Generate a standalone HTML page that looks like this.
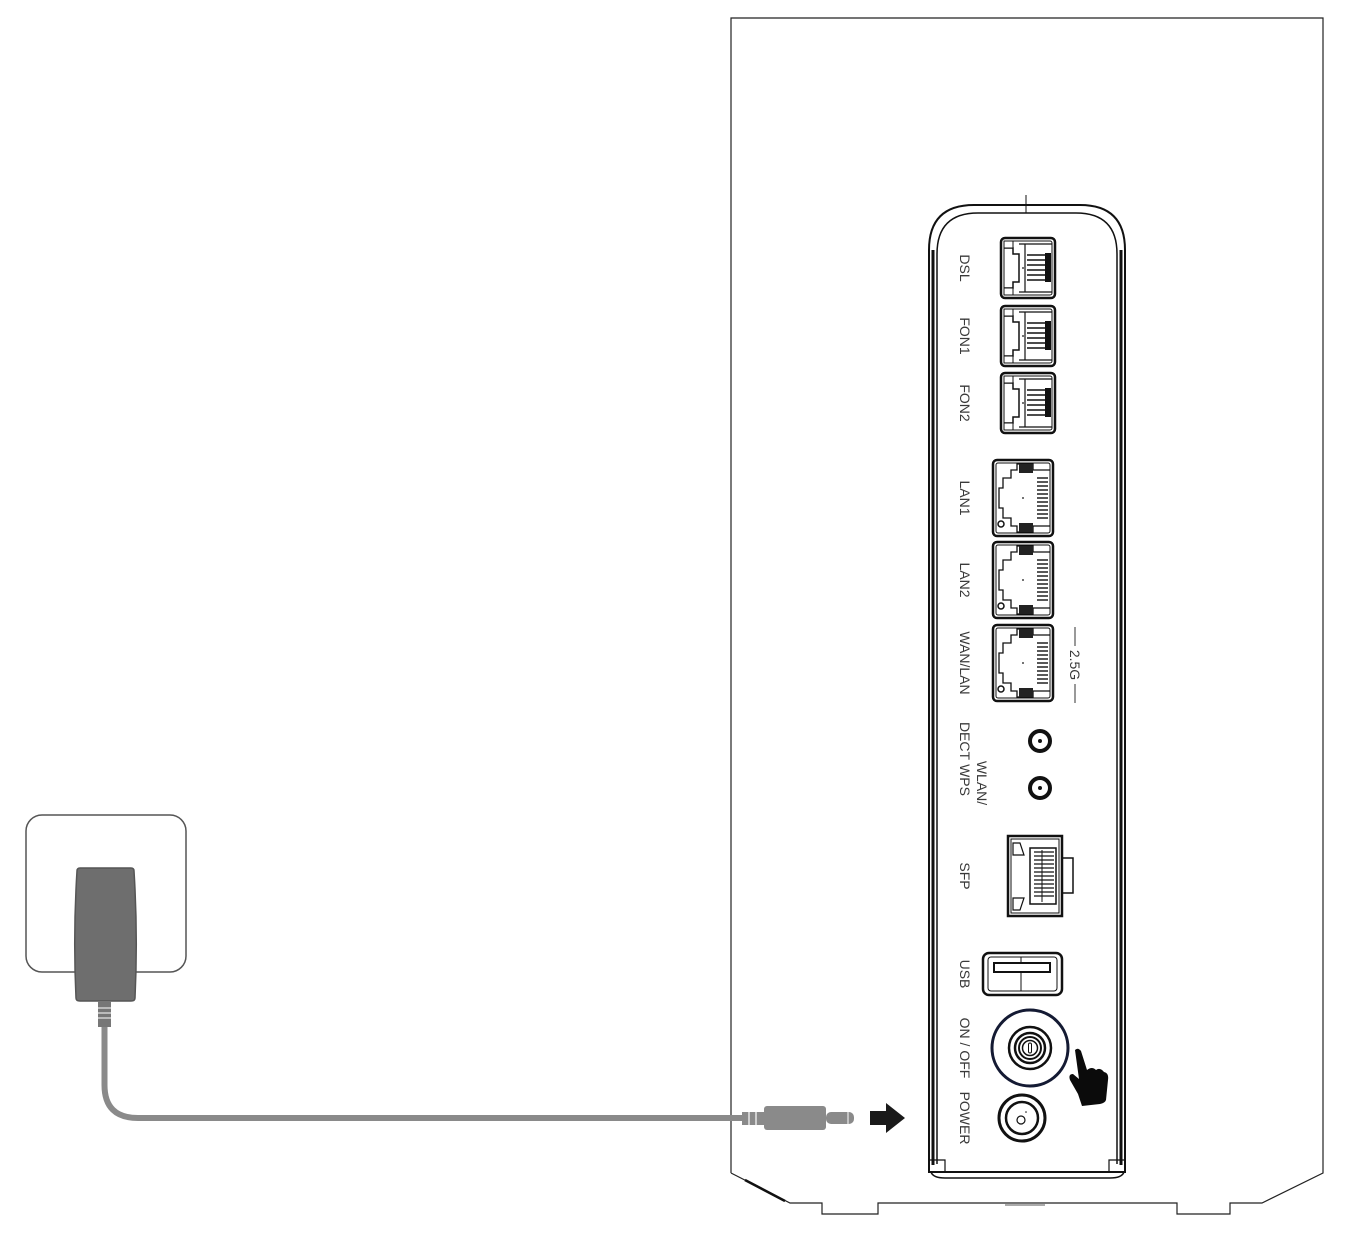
<!DOCTYPE html>
<html><head><meta charset="utf-8"><style>
html,body{margin:0;padding:0;background:#fff;}
svg{display:block;}
text{font-family:"Liberation Sans",sans-serif;font-size:14px;fill:#3a3a3a;}
</style></head><body>
<svg width="1346" height="1236" viewBox="0 0 1346 1236" xmlns="http://www.w3.org/2000/svg">
<defs>
<g id="rj11">
  <rect x="0" y="0" width="54" height="60" rx="4" fill="#fff" stroke="#111" stroke-width="2.5"/>
  <rect x="3" y="3" width="48" height="54" rx="2" fill="none" stroke="#111" stroke-width="1"/>
  <path d="M3 10 H12 V16 H18 V44 H12 V50 H3" fill="none" stroke="#111" stroke-width="1.5"/>
  <rect x="3" y="3" width="9" height="7" fill="#fff" stroke="#111" stroke-width="1"/>
  <rect x="3" y="50" width="9" height="7" fill="#fff" stroke="#111" stroke-width="1"/>
  <path d="M18 6 H51 M18 54 H51 M24 6 V54" fill="none" stroke="#111" stroke-width="1.2"/>
  <g stroke="#111" stroke-width="1.6">
    <line x1="26" y1="17" x2="50" y2="17"/><line x1="26" y1="22" x2="50" y2="22"/>
    <line x1="26" y1="27" x2="50" y2="27"/><line x1="26" y1="32" x2="50" y2="32"/>
    <line x1="26" y1="37" x2="50" y2="37"/><line x1="26" y1="42" x2="50" y2="42"/>
  </g>
  <rect x="44" y="15" width="6" height="29" fill="#111"/>
  <circle cx="22" cy="30" r="0.9" fill="#111"/>
</g>
<g id="rj45">
  <rect x="0" y="0" width="60" height="76" rx="4" fill="#fff" stroke="#111" stroke-width="2.5"/>
  <rect x="3" y="3" width="54" height="70" rx="2" fill="none" stroke="#111" stroke-width="1"/>
  <path d="M57 10 H40 V4 H24 V10 H18 V18 H10 V28 H6 V48 H10 V58 H18 V66 H24 V72 H40 V66 H57" fill="none" stroke="#111" stroke-width="1.3"/>
  <rect x="26" y="4" width="14" height="9" fill="#222"/>
  <rect x="26" y="63" width="14" height="9" fill="#222"/>
  <g stroke="#111" stroke-width="1.4">
    <line x1="44" y1="18" x2="55" y2="18"/><line x1="44" y1="22" x2="55" y2="22"/>
    <line x1="44" y1="26" x2="55" y2="26"/><line x1="44" y1="30" x2="55" y2="30"/>
    <line x1="44" y1="34" x2="55" y2="34"/><line x1="44" y1="38" x2="55" y2="38"/>
    <line x1="44" y1="42" x2="55" y2="42"/><line x1="44" y1="46" x2="55" y2="46"/>
    <line x1="44" y1="50" x2="55" y2="50"/><line x1="44" y1="54" x2="55" y2="54"/>
    <line x1="44" y1="58" x2="55" y2="58"/>
  </g>
  <circle cx="30" cy="38" r="0.9" fill="#111"/>
  <circle cx="8" cy="64" r="3" fill="none" stroke="#111" stroke-width="1.5"/>
</g>
</defs>

<path d="M731 1173 V18 H1323 V1173 L1262 1203 H1230 V1214 H1177 V1203 H878 V1214 H822 V1203 H790 L731 1173" fill="none" stroke="#222" stroke-width="1.2"/>
<line x1="745" y1="1180" x2="785" y2="1201" stroke="#111" stroke-width="2.5"/>
<line x1="1005" y1="1205" x2="1045" y2="1205" stroke="#555" stroke-width="1"/>

<path d="M929 1172 V250 Q929 205 974 205 H1080 Q1125 205 1125 250 V1172 Z" fill="#fff" stroke="#111" stroke-width="2"/>
<path d="M937 1164 V254 Q937 213 978 213 H1076 Q1117 213 1117 254 V1164" fill="none" stroke="#111" stroke-width="1.5"/>
<line x1="933" y1="250" x2="933" y2="1165" stroke="#111" stroke-width="3"/>
<line x1="1121" y1="250" x2="1121" y2="1165" stroke="#111" stroke-width="3"/>
<line x1="1026" y1="195" x2="1026" y2="213" stroke="#111" stroke-width="1"/>
<path d="M929 1160 H945 V1172 M1125 1160 H1109 V1172" fill="none" stroke="#111" stroke-width="1.2"/>
<path d="M931 1172 Q933 1178 945 1178 H1110 Q1122 1178 1124 1172" fill="none" stroke="#111" stroke-width="1.5"/>

<use href="#rj11" x="1001" y="238"/>
<use href="#rj11" x="1001" y="306"/>
<use href="#rj11" x="1001" y="373"/>
<use href="#rj45" x="993" y="460"/>
<use href="#rj45" x="993" y="542"/>
<use href="#rj45" x="993" y="625"/>

<circle cx="1040" cy="741" r="10" fill="#fff" stroke="#111" stroke-width="4"/>
<circle cx="1040" cy="741" r="2" fill="#111"/>
<circle cx="1040" cy="788" r="10" fill="#fff" stroke="#111" stroke-width="4"/>
<circle cx="1040" cy="788" r="2" fill="#111"/>

<rect x="1062" y="858" width="11" height="35" fill="#fff" stroke="#111" stroke-width="1.5"/>
<rect x="1008" y="836" width="54" height="80" fill="#fff" stroke="#111" stroke-width="2.5"/>
<rect x="1011" y="839" width="48" height="74" fill="none" stroke="#111" stroke-width="1"/>
<rect x="1030" y="848" width="26" height="56" fill="none" stroke="#111" stroke-width="1.5"/>
<g stroke="#111" stroke-width="1.3">
  <line x1="1034" y1="852" x2="1054" y2="852"/><line x1="1034" y1="856" x2="1054" y2="856"/>
  <line x1="1034" y1="860" x2="1054" y2="860"/><line x1="1034" y1="864" x2="1054" y2="864"/>
  <line x1="1034" y1="868" x2="1054" y2="868"/><line x1="1034" y1="872" x2="1054" y2="872"/>
  <line x1="1034" y1="876" x2="1054" y2="876"/><line x1="1034" y1="880" x2="1054" y2="880"/>
  <line x1="1034" y1="884" x2="1054" y2="884"/><line x1="1034" y1="888" x2="1054" y2="888"/>
  <line x1="1034" y1="892" x2="1054" y2="892"/><line x1="1034" y1="896" x2="1054" y2="896"/>
</g>
<path d="M1013 843 H1020 L1024 855 H1013 Z M1013 910 H1020 L1024 898 H1013 Z" fill="none" stroke="#111" stroke-width="1.2"/>
<line x1="1042" y1="850" x2="1042" y2="902" stroke="#111" stroke-width="1"/>

<rect x="983" y="953" width="79" height="42" rx="6" fill="#fff" stroke="#111" stroke-width="2.5"/>
<rect x="988" y="957" width="69" height="34" rx="3" fill="none" stroke="#111" stroke-width="1"/>
<rect x="994" y="963" width="56" height="9" fill="none" stroke="#111" stroke-width="2"/>
<line x1="1021" y1="957" x2="1021" y2="963" stroke="#111" stroke-width="1"/>
<line x1="1021" y1="972" x2="1021" y2="991" stroke="#111" stroke-width="1"/>

<circle cx="1030" cy="1048" r="38" fill="#fff" stroke="#141a33" stroke-width="3"/>
<circle cx="1030" cy="1048" r="21" fill="none" stroke="#111" stroke-width="2.5"/>
<circle cx="1030" cy="1048" r="15" fill="none" stroke="#111" stroke-width="2.5"/>
<circle cx="1030" cy="1048" r="11" fill="none" stroke="#111" stroke-width="2"/>
<circle cx="1030" cy="1048" r="7.5" fill="none" stroke="#111" stroke-width="1.5"/>
<rect x="1028.5" y="1043" width="3" height="10" rx="1.5" fill="none" stroke="#111" stroke-width="1"/>

<circle cx="1022" cy="1118" r="23" fill="#fff" stroke="#111" stroke-width="3"/>
<circle cx="1022" cy="1118" r="16" fill="none" stroke="#111" stroke-width="2.5"/>
<circle cx="1021" cy="1120" r="4" fill="none" stroke="#111" stroke-width="1.2"/>
<circle cx="1026" cy="1112" r="0.8" fill="#111"/>

<path d="M1075 1050 Q1078 1047 1081 1051 L1087 1070 Q1092 1066 1096 1070 Q1100 1067 1104 1072 Q1109 1073 1108 1080 L1106 1100 Q1105 1103 1100 1104 L1082 1106 L1078 1094 L1070 1080 Q1068 1074 1073 1074 L1079 1079 Z" fill="#0b0b0b"/>

<g>
<text transform="translate(960,268) rotate(90)" text-anchor="middle">DSL</text>
<text transform="translate(960,336) rotate(90)" text-anchor="middle">FON1</text>
<text transform="translate(960,403) rotate(90)" text-anchor="middle">FON2</text>
<text transform="translate(960,498) rotate(90)" text-anchor="middle">LAN1</text>
<text transform="translate(960,580) rotate(90)" text-anchor="middle">LAN2</text>
<text transform="translate(960,663) rotate(90)" text-anchor="middle">WAN/LAN</text>
<text transform="translate(960,741) rotate(90)" text-anchor="middle">DECT</text>
<text transform="translate(977,783) rotate(90)" text-anchor="middle">WLAN/</text>
<text transform="translate(960,780) rotate(90)" text-anchor="middle">WPS</text>
<text transform="translate(960,876) rotate(90)" text-anchor="middle">SFP</text>
<text transform="translate(960,974) rotate(90)" text-anchor="middle">USB</text>
<text transform="translate(960,1048) rotate(90)" text-anchor="middle">ON / OFF</text>
<text transform="translate(960,1118) rotate(90)" text-anchor="middle">POWER</text>
<text transform="translate(1070,665) rotate(90)" text-anchor="middle">2.5G</text>
</g>
<line x1="1075" y1="627" x2="1075" y2="646" stroke="#333" stroke-width="1"/>
<line x1="1075" y1="684" x2="1075" y2="703" stroke="#333" stroke-width="1"/>

<path d="M870 1111 H886 V1103 L905 1118 L886 1133 V1125 H870 Z" fill="#1a1a1a"/>

<rect x="26" y="815" width="160" height="157" rx="16" fill="#fff" stroke="#555" stroke-width="1.5"/>
<path d="M80 868 H131 Q134 868 134 871 Q138 935 135 998 Q135 1001 131 1001 H80 Q76 1001 76 998 Q73 935 77 871 Q77 868 80 868 Z" fill="#6e6e6e" stroke="#555" stroke-width="1.5"/>
<rect x="98" y="1001" width="13" height="26" fill="#777"/>
<g stroke="#fff" stroke-width="1"><line x1="98" y1="1008" x2="111" y2="1008"/><line x1="98" y1="1013" x2="111" y2="1013"/><line x1="98" y1="1018" x2="111" y2="1018"/></g>
<path d="M104.5 1027 V1085 Q104.5 1118 138 1118 H745" fill="none" stroke="#8a8a8a" stroke-width="6"/>
<rect x="742" y="1112" width="24" height="13" fill="#8a8a8a"/>
<g stroke="#fff" stroke-width="1.2"><line x1="749" y1="1112" x2="749" y2="1125"/><line x1="756" y1="1112" x2="756" y2="1125"/></g>
<rect x="764" y="1106" width="62" height="24" rx="3" fill="#8a8a8a"/>
<rect x="826" y="1112" width="28" height="12" rx="5" fill="#8a8a8a"/>
<line x1="848" y1="1112" x2="848" y2="1124" stroke="#fff" stroke-width="1"/>
</svg>
</body></html>
